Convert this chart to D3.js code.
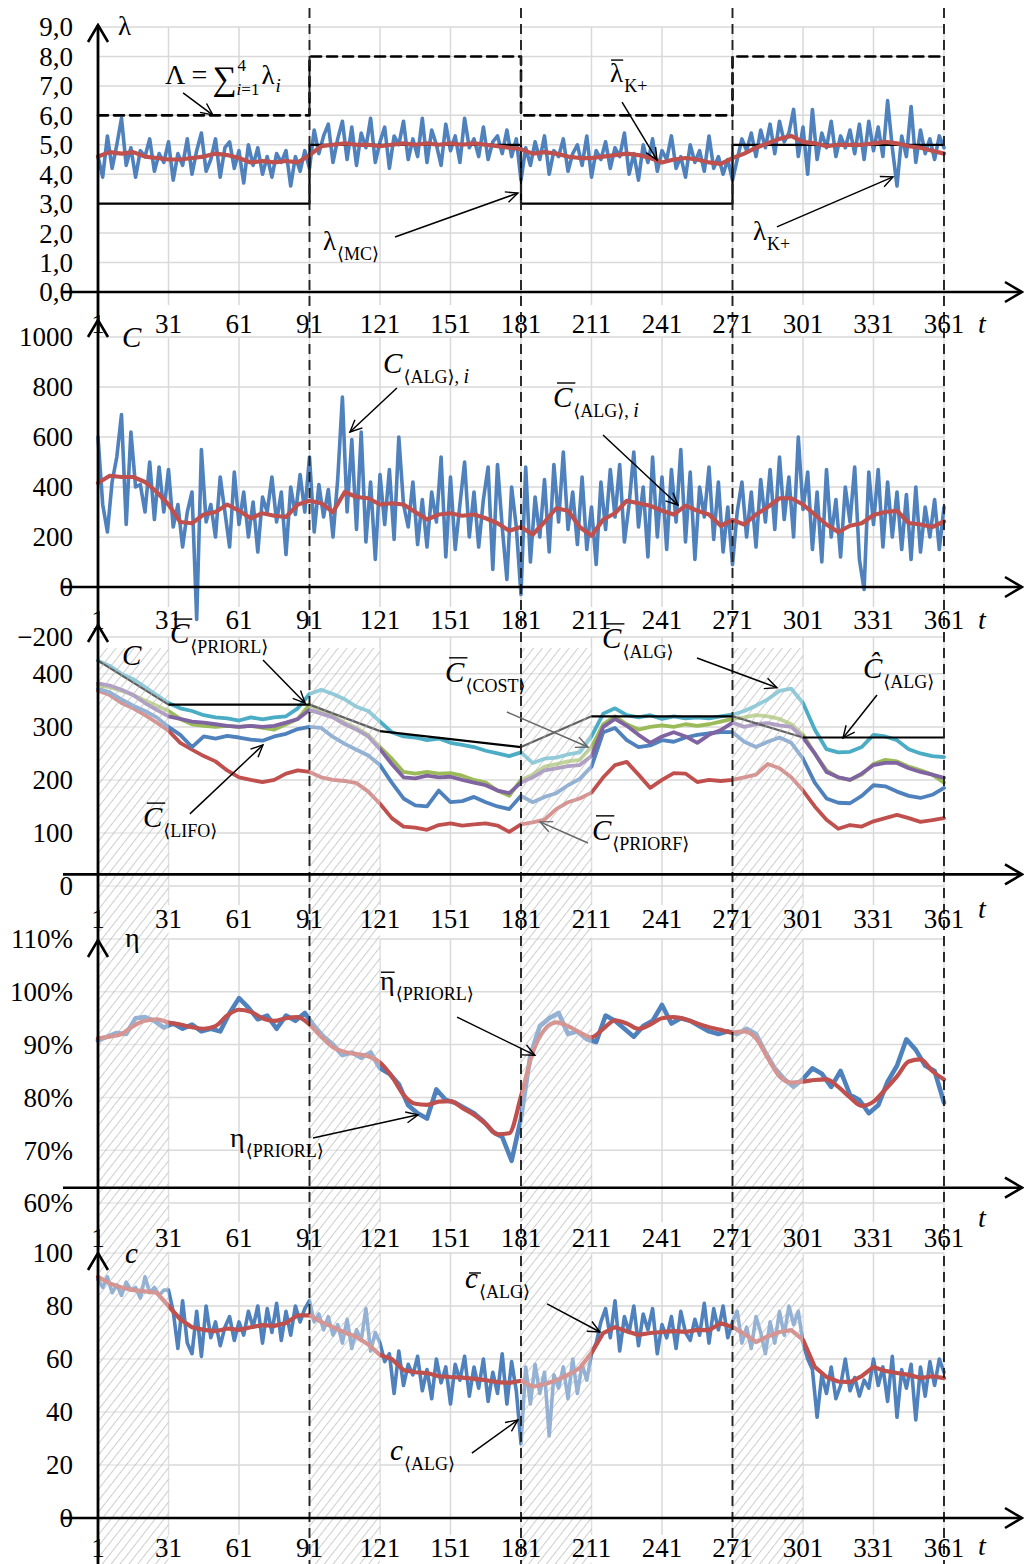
<!DOCTYPE html>
<html>
<head>
<meta charset="utf-8">
<script src="https://cdn.jsdelivr.net/npm/d3@7"></script>
<style>
body { margin: 0; background: #fff; }
text { font-family: "Liberation Serif", "DejaVu Serif", serif; fill: #000; }
</style>
</head>
<body>
<script>
// categories / shared
var tickT = [1, 31, 61, 91, 121, 151, 181, 211, 241, 271, 301, 331, 361];
var phaseT = [91, 181, 271, 361];
var hatchT = [[1, 31], [91, 121], [181, 211], [271, 301]];

// panel 1 : intensities
var stepT = [1, 91, 181, 271, 361];
var lamMcV = [3, 5, 3, 5, 5];
var lamSumV = [6, 8, 6, 8, 8];
// lambda K+ , every 2nd day
var lamKp = [
  4.6, 3.9, 5.3, 4.2, 5.0, 5.9, 4.3, 4.9, 3.9, 4.8, 4.6, 5.2, 4.1, 4.7, 4.4,
  5.1, 3.8, 4.7, 4.3, 5.2, 4.0, 4.8, 5.4, 4.1, 4.5, 5.2, 3.9, 4.9, 5.1, 4.2,
  4.8, 3.7, 5.0, 4.3, 4.9, 4.0, 4.6, 3.9, 4.7, 4.4, 4.8, 3.6, 4.6, 4.1, 4.8,
  4.2,
  5.5, 4.7, 5.3, 5.7, 4.4, 5.2, 5.8, 4.5, 5.6, 4.3, 5.4,
  4.9, 5.9, 4.4, 5.1, 5.6, 4.2, 5.3, 5.0, 5.8, 4.5, 5.2,
  4.6, 5.9, 4.4, 5.5, 5.0, 4.3, 5.7, 4.8, 5.3, 4.4, 5.9,
  4.9, 5.2, 4.6, 5.6, 4.5, 5.1, 5.3, 4.7, 5.5, 4.6, 5.2,
  3.8,
  4.9, 4.3, 5.1, 4.5, 5.3, 4.0, 4.8, 4.6, 5.2,
  4.1, 4.7, 5.0, 4.3, 5.3, 3.9, 4.8, 4.5, 5.1,
  4.2, 4.9, 4.6, 5.4, 4.0, 4.7, 3.8, 5.0, 4.4,
  5.2, 4.1, 4.8, 4.5, 5.3, 4.2, 4.6, 3.9, 5.0,
  4.4, 4.8, 4.1, 5.3, 4.2, 4.6, 4.0, 4.5, 3.8,
  4.5, 5.2, 4.8, 5.4, 4.6, 5.5, 4.9, 5.7, 4.7,
  5.8, 5.1, 5.4, 6.2, 4.6, 5.6, 4.0, 6.2, 4.5,
  5.4, 4.9, 5.8, 4.6, 5.3, 4.9, 5.5, 4.7, 5.7,
  4.5, 5.8, 4.8, 5.6, 4.6, 6.5, 4.9, 3.6, 5.3,
  4.6, 6.3, 4.4, 5.5, 4.7, 5.2, 4.5, 5.3, 4.9
];
// mean lambda K+, every 5th day
var lamKpAvg = [
  4.6, 4.75, 4.7, 4.75, 4.6, 4.55, 4.5, 4.5, 4.55, 4.6,
  4.7, 4.65, 4.55, 4.4, 4.45, 4.4, 4.45, 4.4, 4.65, 4.95,
  5.0, 5.05, 5.0, 5.0, 4.95, 5.0, 5.05, 5.0, 5.05, 5.0,
  5.05, 5.0, 5.05, 5.0, 4.95, 4.9, 4.85, 4.7, 4.75, 4.7,
  4.6, 4.55, 4.55, 4.6, 4.65, 4.7, 4.65, 4.55, 4.4, 4.5,
  4.55, 4.5, 4.4, 4.35, 4.55, 4.7, 4.9, 5.05, 5.2, 5.3,
  5.1, 5.05, 4.95, 5.0, 5.0, 5.0, 5.05, 5.1, 5.05, 4.95,
  4.9, 4.8, 4.7
];

// panel 2 : cost per day, every 2nd day
var costDay = [
  600, 330, 220, 420, 520, 690, 250, 620, 400, 410, 300, 500, 270, 480, 300,
  470, 240, 330, 160, 300, 380, -130, 550, 260, 330, 200, 440, 300, 160, 460,
  250, 380, 200, 340, 140, 360, 300, 440, 260, 380, 130, 400, 290, 450, 300,
  520, 220, 410, 280, 390, 200, 430, 760, 300, 590, 230, 620, 180, 420, 110,
  450, 250, 470, 190, 600, 330, 240, 420, 170, 350, 160, 380, 260, 520, 120,
  440, 150, 330, 500, 200, 380, 160, 350, 480, 70, 490, 240, 30, 400, 240,
  -30,
  480, 100, 360, 200, 430, 140, 490, 260, 540, 230, 380, 170, 440, 150, 320,
  90, 420, 230, 470, 280, 490, 180, 330, 540, 240, 400, 120, 520, 200, 440,
  150, 470, 260, 550, 180, 460, 110, 400, 280, 480, 190, 420, 140, 320, 90,
  300, 420, 200, 380, 160, 430, 260, 470, 230, 520, 270, 440, 200, 600, 310,
  460, 150, 380, 100, 470, 200, 350, 120, 400, 260, 480, 110, -10, 460, 250,
  470, 160, 420, 200, 380, 150, 370, 110, 400, 140, 320, 200, 350, 150, 320
];
var costDayAvg = [
  416, 445, 440, 440, 420, 380, 330, 260, 255, 290,
  300, 330, 305, 275, 295, 285, 280, 330, 345, 335,
  300, 380, 360, 355, 330, 335, 330, 300, 270, 290,
  295, 285, 290, 275, 255, 225, 240, 210, 260, 315,
  305, 240, 205, 270, 295, 345, 335, 325, 305, 290,
  325, 305, 290, 245, 268, 250, 290, 320, 355, 355,
  330, 290, 250, 220, 245, 255, 288, 300, 305, 256,
  250, 240, 262
];

// panel 3 : mean cost by discipline, every 5th day
var costAlg = [
  425, 415, 400, 390, 375, 360, 345, 335, 330, 322,
  318, 316, 312, 318, 314, 318, 320, 335, 362, 370,
  362, 352, 338, 330, 310, 290, 282, 280, 275, 278,
  270, 266, 262, 255, 250, 245, 252, 232, 240, 242,
  248, 252, 282, 325, 335, 322, 318, 322, 315, 320,
  316, 318, 316, 320, 323, 330, 340, 352, 368, 372,
  345, 295, 258, 252, 253, 262, 285, 282, 275, 258,
  250, 245, 243
];
var costGreen = [
  378, 375, 368, 360, 350, 340, 330, 315, 305, 302,
  300, 302, 300, 302, 298, 295, 305, 315, 342, 330,
  320, 308, 298, 285, 262, 240, 215, 212, 215, 212,
  213, 208, 200, 195, 180, 170, 200, 210, 225, 230,
  235, 238, 262, 305, 320, 305, 295, 300, 303, 300,
  305, 302, 305, 310, 315, 318, 322, 320, 315, 305,
  285, 250, 218, 205, 200, 210, 230, 238, 235, 225,
  218, 210, 195
];
var costPriorl = [
  382, 378, 370, 360, 345, 332, 320, 315, 310, 308,
  305, 302, 300, 302, 300, 302, 308, 315, 332, 325,
  318, 305, 295, 282, 258, 230, 205, 203, 208, 205,
  206, 200, 195, 190, 180, 175, 195, 205, 218, 222,
  226, 228, 245, 300, 315, 302, 285, 270, 282, 290,
  282, 270, 285, 294, 308, 300, 305, 307, 303, 300,
  280, 250, 215, 205, 200, 212, 228, 232, 232, 222,
  215, 210, 204
];
var costLifo = [
  372, 365, 352, 340, 330, 318, 300, 285, 262, 282,
  278, 283, 280, 276, 274, 282, 287, 296, 300, 298,
  281, 268, 257, 246, 228, 195, 165, 152, 150, 180,
  158, 160, 168, 158, 150, 145, 170, 158, 168, 175,
  190, 202, 225, 290, 298, 275, 262, 265, 275, 272,
  280, 285, 288, 290, 290, 272, 262, 272, 280, 270,
  240, 195, 165, 157, 156, 170, 190, 188, 178, 170,
  166, 172, 185
];
var costPriorf = [
  368, 360, 345, 335, 322, 308, 293, 270, 257, 245,
  235, 218, 205, 200, 196, 200, 212, 218, 215, 205,
  200, 198, 194, 178, 155, 128, 112, 110, 106, 115,
  118, 114, 116, 118, 114, 102, 116, 120, 125, 145,
  158, 165, 176, 205, 228, 234, 210, 185, 200, 213,
  212, 196, 200, 198, 200, 205, 210, 230, 222, 205,
  180, 150, 125, 108, 115, 112, 122, 128, 134, 128,
  121, 124, 128
];
var costKnotT = [1, 31, 91, 121, 181, 211, 271, 301, 361];
var costKnotV = [425, 342, 342, 292, 262, 320, 320, 280, 280];

// panel 4 : efficiency (%), every 4th day / smoothed every 5th day
var etaDay = [
  90.8, 91.5, 92.2, 92.0, 95.0, 95.2, 94.5, 93.2, 94.0, 93.0,
  93.8, 92.5, 93.0, 92.5, 96.0, 98.8, 97.0, 94.8, 95.5, 93.0,
  95.5, 94.5, 96.0, 93.5, 91.5, 90.0, 88.0, 88.5, 87.5, 88.5,
  85.5, 84.5, 82.5, 78.5, 77.0, 76.0, 81.5, 79.5, 79.0, 78.0,
  77.0, 75.5, 73.5, 72.5, 68.0, 76.0, 88.0, 93.5, 95.0, 96.0,
  92.0, 92.5, 91.0, 90.5, 95.5, 94.5, 93.0, 91.5, 93.5, 94.5,
  97.5, 94.0, 95.0, 94.5, 93.5, 92.5, 92.0, 92.5, 92.0, 93.0,
  92.0, 88.5, 85.5, 83.5, 82.0, 83.5, 85.5, 84.5, 82.0, 85.0,
  80.5, 79.5, 77.0, 78.5, 83.0, 86.0, 91.0, 89.0, 86.0, 85.0,
  79.0
];
var etaAvg = [
  91.2, 91.5, 92.0, 93.5, 94.5, 94.8, 94.2, 93.8, 93.3, 93.0,
  93.5, 95.5, 96.6, 96.2, 95.0, 94.5, 95.0, 95.2, 93.8, 91.5,
  89.5, 88.6, 88.2, 87.8, 86.6, 84.0, 80.5, 78.8, 78.6, 79.2,
  79.3, 78.0, 76.7, 75.0, 73.0, 73.2, 80.2, 88.5, 92.8, 94.2,
  93.5, 92.3, 91.4, 93.0, 94.6, 94.0, 93.0, 93.8, 95.0, 95.2,
  94.8, 94.0, 93.3, 92.8, 92.3, 92.5, 91.2, 87.5, 84.0, 82.8,
  83.0, 83.3, 83.4, 82.0, 80.0, 78.4, 79.2, 81.5, 84.0, 86.8,
  87.2, 85.0, 83.4
];

// panel 5 : unit cost, every 2nd day / smoothed every 5th day
var unitCost = [
  90, 87, 91, 85, 88, 84, 89, 86, 87, 83, 91, 85, 87, 84, 86,
  86, 78, 64, 82, 66, 62, 78, 61, 80, 68, 74, 65, 72, 76, 67,
  74, 69, 78, 72, 80, 66, 79, 70, 81, 67, 78, 69, 80, 74, 79,
  82, 74, 77, 71, 76, 69, 73, 66, 75, 64, 71, 67, 79, 63, 70,
  66, 59, 62, 47, 63, 50, 58, 54, 61, 48, 56, 45, 60, 51, 57,
  43, 58, 52, 61, 46, 57, 49, 60, 44, 55, 47, 62, 43, 59, 48,
  28,
  57, 43, 58, 47, 55, 31, 54, 49, 57, 45, 60, 47, 58, 52, 62,
  66, 74, 79, 68, 82, 63, 76, 70, 80, 65, 77, 71, 79, 62, 73,
  68, 76, 64, 78, 70, 67, 75, 69, 81, 66, 79, 71, 80, 68, 74,
  78, 66, 72, 64, 76, 70, 62, 74, 66, 78, 69, 80, 73, 78, 66,
  60, 56, 38, 54, 47, 57, 45, 50, 60, 48, 53, 46, 52, 49, 60,
  50, 57, 44, 61, 38, 56, 49, 58, 37, 57, 46, 59, 50, 60, 55
];
var unitCostAvg = [
  91, 88.5, 87, 86, 85.5, 85, 80, 75, 72, 71,
  70.5, 71.5, 71, 72, 72.8, 72.5, 73.6, 76.5, 76.5, 74,
  72, 70, 68.3, 65.5, 61.5, 60, 55.8, 55, 54.7, 53.5,
  53.2, 53, 52.5, 52, 51.3, 51, 51.8, 49.5, 50.5, 52,
  54, 56.6, 62.3, 69.8, 72, 70.5, 69.1, 69.8, 70.2, 70.5,
  70.2, 71, 70.9, 73.5, 72.1, 69.5, 66.4, 68.5, 70.2, 70.9,
  67.2, 57, 53.2, 51.5, 51.3, 53.5, 57, 55.5, 54.7, 54,
  52.8, 53.5, 52.8
];

var cBlue = "#4f81bd", cRed = "#c0504d", cCyan = "#4bacc6",
    cGreen = "#9bbb59", cPurple = "#8064a2";

var W = 1024, H = 1564;
var svg = d3.select("body").append("svg").attr("width", W).attr("height", H);
var defs = svg.append("defs");

function marker(id, w, h, color, sw) {
  defs.append("marker").attr("id", id)
    .attr("viewBox", "-2 -2 " + (w + 4) + " " + (h + 4))
    .attr("refX", w).attr("refY", h / 2)
    .attr("markerWidth", w + 4).attr("markerHeight", h + 4)
    .attr("markerUnits", "userSpaceOnUse").attr("orient", "auto")
    .append("path").attr("d", "M0,0 L" + w + "," + (h / 2) + " L0," + h)
    .attr("fill", "none").attr("stroke", color).attr("stroke-width", sw);
}
marker("axisHead", 17, 20, "#000", 2.6);
marker("head", 12, 11, "#000", 1.4);
marker("headGray", 12, 11, "#666", 1.4);

// hatch for the transition periods
var pat = defs.append("pattern").attr("id", "hatch")
  .attr("patternUnits", "userSpaceOnUse").attr("width", 7).attr("height", 7)
  .attr("patternTransform", "rotate(38)");
pat.append("rect").attr("width", 7).attr("height", 7).attr("fill", "#fff").attr("fill-opacity", 0.38);
pat.append("line").attr("x1", 0).attr("y1", 0).attr("x2", 0).attr("y2", 7)
  .attr("stroke", "#b3b3b3").attr("stroke-width", 1.3);

var x = d3.scaleLinear().domain([1, 361]).range([98, 944]);

function pts(values, step) {
  return values.map(function(v, i) { return [1 + i * step, v]; });
}
function pairs(ts, vs) {
  return ts.map(function(t, i) { return [t, vs[i]]; });
}

var commaFmt = function(v) { return d3.format(".1f")(v).replace(".", ","); };

var panels = [
  {domain: [0, 9], range: [292, 27], ticks: d3.range(0, 10, 1), fmt: commaFmt, axisAt: 0,
   tip: 25, axisBottom: 320, gridTop: 27, gridBottom: 305, labelY: 333, tY: 333,
   series: [
     {data: pts(lamKp, 2), color: cBlue, w: 3.6},
     {data: pairs(stepT, lamMcV), color: "#000", w: 2.2, step: true},
     {data: pairs(stepT, lamSumV), color: "#000", w: 2.6, step: true, dash: "10,6"},
     {data: pts(lamKpAvg, 5), color: cRed, w: 4.2}
   ]},
  {domain: [-200, 1000], range: [637, 337], ticks: d3.range(-200, 1001, 200), fmt: d3.format("d"), axisAt: 0,
   tip: 320, axisBottom: 625, gridTop: 337, gridBottom: 607, labelY: 629, tY: 629,
   series: [
     {data: pts(costDay, 2), color: cBlue, w: 3.6},
     {data: pts(costDayAvg, 5), color: cRed, w: 4.2}
   ]},
  {domain: [0, 445], range: [886, 650], ticks: [0, 100, 200, 300, 400], fmt: d3.format("d"), axisAt: 22,
   tip: 625, axisBottom: 940, gridTop: 637, gridBottom: 905, labelY: 928, tY: 918,
   series: [
     {data: pts(costPriorf, 5), color: cRed, w: 3.8},
     {data: pts(costLifo, 5), color: cBlue, w: 3.8},
     {data: pts(costGreen, 5), color: cGreen, w: 3.8},
     {data: pts(costPriorl, 5), color: cPurple, w: 3.8},
     {data: pts(costAlg, 5), color: cCyan, w: 3.8},
     {data: pairs(costKnotT, costKnotV), color: "#000", w: 2.2}
   ]},
  {domain: [60, 110], range: [1203, 939], ticks: d3.range(60, 111, 10), fmt: function(v) { return v + "%"; }, axisAt: 62.9,
   tip: 940, axisBottom: 1253, gridTop: 939, gridBottom: 1222, labelY: 1247, tY: 1227,
   series: [
     {data: pts(etaDay, 4), color: cBlue, w: 4.6},
     {data: pts(etaAvg, 5), color: cRed, w: 4.2, curve: d3.curveMonotoneX}
   ]},
  {domain: [0, 100], range: [1518, 1253], ticks: d3.range(0, 101, 20), fmt: d3.format("d"), axisAt: 0,
   tip: 1253, axisBottom: 1564, gridTop: 1253, gridBottom: 1535, labelY: 1557, tY: 1555,
   series: [
     {data: pts(unitCost, 2), color: cBlue, w: 3.6},
     {data: pts(unitCostAvg, 5), color: cRed, w: 4.2}
   ]}
];
panels.forEach(function(p) { p.y = d3.scaleLinear().domain(p.domain).range(p.range); });

var gGrid = svg.append("g"), gSeries = svg.append("g"), gHatch = svg.append("g"),
    gPhase = svg.append("g"), gAxes = svg.append("g"), gText = svg.append("g"), gNotes = svg.append("g");

panels.forEach(function(p) {
  // grid
  gGrid.selectAll(null).data(p.ticks).enter().append("line")
    .attr("x1", x(1)).attr("x2", x(361))
    .attr("y1", function(d) { return p.y(d); }).attr("y2", function(d) { return p.y(d); })
    .attr("stroke", "#d9d9d9").attr("stroke-width", 1.5);
  gGrid.selectAll(null).data(tickT.slice(1)).enter().append("line")
    .attr("x1", function(d) { return x(d); }).attr("x2", function(d) { return x(d); })
    .attr("y1", p.gridTop).attr("y2", p.gridBottom)
    .attr("stroke", "#d9d9d9").attr("stroke-width", 1.5);

  // series
  p.series.forEach(function(s) {
    var line = d3.line()
      .x(function(d) { return x(d[0]); })
      .y(function(d) { return p.y(d[1]); })
      .curve(s.step ? d3.curveStepAfter : (s.curve || d3.curveLinear));
    gSeries.append("path").datum(s.data).attr("d", line)
      .attr("fill", "none").attr("stroke", s.color).attr("stroke-width", s.w)
      .attr("stroke-linejoin", "round").attr("stroke-linecap", "round")
      .attr("stroke-dasharray", s.dash || null);
  });

  // axes
  gAxes.append("line").attr("x1", x(1)).attr("x2", x(1))
    .attr("y1", p.axisBottom).attr("y2", p.tip)
    .attr("stroke", "#000").attr("stroke-width", 2.8).attr("marker-end", "url(#axisHead)");
  gAxes.append("line").attr("x1", x(1) - 35).attr("x2", W - 2)
    .attr("y1", p.y(p.axisAt)).attr("y2", p.y(p.axisAt))
    .attr("stroke", "#000").attr("stroke-width", 2.6).attr("marker-end", "url(#axisHead)");

  // tick labels
  gText.selectAll(null).data(p.ticks).enter().append("text")
    .attr("x", 73).attr("y", function(d) { return p.y(d); }).attr("dy", "0.35em")
    .attr("text-anchor", "end").attr("font-size", 27).text(p.fmt);
  gText.selectAll(null).data(tickT).enter().append("text")
    .attr("x", function(d) { return x(d); }).attr("y", p.labelY)
    .attr("text-anchor", "middle").attr("font-size", 27).text(function(d) { return d; });
  gText.append("text").attr("x", 978).attr("y", p.tY).attr("font-size", 28)
    .attr("font-style", "italic").text("t");
});

// transition periods hatched in the lower three panels
gHatch.selectAll(null).data(hatchT).enter().append("rect")
  .attr("x", function(d) { return x(d[0]); }).attr("width", function(d) { return x(d[1]) - x(d[0]); })
  .attr("y", panels[2].range[1] - 2).attr("height", H - panels[2].range[1] + 2)
  .attr("fill", "url(#hatch)");

// phase boundaries
gPhase.selectAll(null).data(phaseT).enter().append("line")
  .attr("x1", function(d) { return x(d); }).attr("x2", function(d) { return x(d); })
  .attr("y1", 8).attr("y2", H)
  .attr("stroke", "#222").attr("stroke-width", 1.9).attr("stroke-dasharray", "10,6");

// annotation helpers (positions in data units of each panel)
function mathLabel(p, t, v, o) {
  var px = x(t), py = panels[p].y(v);
  var g = gNotes.append("g");
  var m = g.append("text").attr("x", px).attr("y", py).attr("font-size", o.size || 29)
    .attr("font-style", o.italic ? "italic" : null).text(o.main);
  var w = m.node().getComputedTextLength();
  if (o.bar) {
    g.append("line").attr("x1", px + (o.italic ? 4 : 1)).attr("x2", px + w + (o.italic ? 3 : 0))
      .attr("y1", py - o.bar).attr("y2", py - o.bar)
      .attr("stroke", "#000").attr("stroke-width", 1.4);
  }
  if (o.sub) {
    var s = g.append("text").attr("x", px + w + 1).attr("y", py + 10).attr("font-size", 18);
    s.append("tspan").text(o.sub);
    if (o.tail) {
      s.append("tspan").text(", ");
      s.append("tspan").attr("font-style", "italic").attr("font-size", 20).text("i");
    }
  }
}
function arrow(p, t1, v1, t2, v2, gray) {
  var y = panels[p].y;
  gNotes.append("line").attr("x1", x(t1)).attr("y1", y(v1)).attr("x2", x(t2)).attr("y2", y(v2))
    .attr("stroke", gray ? "#666" : "#000").attr("stroke-width", 1.5)
    .attr("marker-end", gray ? "url(#headGray)" : "url(#head)");
}

// panel 1 notes : Λ = Σ λi, pieces placed after measuring the sum sign
(function() {
  var px = x(29.5), py = panels[0].y(7.06);
  var g = gNotes.append("g");
  var lead = g.append("text").attr("x", px).attr("y", py).attr("font-size", 28).text("Λ =");
  var sx = px + lead.node().getComputedTextLength() + 5;
  var sum = g.append("text").attr("x", sx).attr("y", py + 6).attr("font-size", 34).text("∑");
  var sumEnd = sx + sum.node().getComputedTextLength();
  g.append("text").attr("x", sumEnd + 1).attr("y", py - 13).attr("font-size", 17).text("4");
  var s = g.append("text").attr("x", sumEnd).attr("y", py + 11).attr("font-size", 17);
  s.append("tspan").attr("font-style", "italic").text("i");
  s.append("tspan").text("=1");
  var lx = sumEnd + s.node().getComputedTextLength() + 2;
  var lam = g.append("text").attr("x", lx).attr("y", py).attr("font-size", 27).text("λ");
  g.append("text").attr("x", lx + lam.node().getComputedTextLength() + 1).attr("y", py + 8)
    .attr("font-size", 19).attr("font-style", "italic").text("i");
})();
arrow(0, 37.2, 6.76, 49.9, 6.01);
mathLabel(0, 9.5, 8.73, {main: "λ", size: 27});
mathLabel(0, 218.9, 7.13, {main: "λ", size: 27, bar: 22, sub: "K+"});
arrow(0, 224, 6.45, 238.9, 4.48);
mathLabel(0, 96.7, 1.43, {main: "λ", size: 27, sub: "⟨MC⟩"});
arrow(0, 127.4, 1.87, 179.7, 3.36);
mathLabel(0, 279.7, 1.77, {main: "λ", size: 27, sub: "K+"});
arrow(0, 289.9, 2.21, 339.3, 3.91);

// panel 2 notes
mathLabel(1, 11.2, 960, {main: "C", italic: true});
mathLabel(1, 122.3, 856, {main: "C", italic: true, sub: "⟨ALG⟩", tail: true});
arrow(1, 128.2, 796, 108.2, 620);
mathLabel(1, 194.6, 720, {main: "C", italic: true, bar: 24, sub: "⟨ALG⟩", tail: true});
arrow(1, 215.9, 608, 247.8, 328);

// panel 3 notes
mathLabel(2, 11.2, 417, {main: "C", italic: true});
mathLabel(2, 31.6, 458, {main: "C", italic: true, bar: 24, sub: "⟨PRIORL⟩"});
arrow(2, 71.2, 426, 89.1, 345);
mathLabel(2, 20.1, 111, {main: "C", italic: true, bar: 24, sub: "⟨LIFO⟩"});
arrow(2, 40.1, 136, 71.2, 266);
mathLabel(2, 148.7, 385, {main: "C", italic: true, bar: 24, sub: "⟨COST⟩"});
arrow(2, 175, 328, 209.5, 262, true);
mathLabel(2, 215.5, 449, {main: "C", italic: true, bar: 24, sub: "⟨ALG⟩"});
arrow(2, 255.9, 430, 289.9, 374);
mathLabel(2, 326.5, 392, {main: "Ĉ", italic: true, sub: "⟨ALG⟩"});
arrow(2, 332.5, 360, 318, 279);
mathLabel(2, 211.2, 87, {main: "C", italic: true, bar: 24, sub: "⟨PRIORF⟩"});
arrow(2, 209.5, 81, 189.1, 121, true);

// panel 4 notes
mathLabel(3, 12.5, 108.5, {main: "η", size: 28});
mathLabel(3, 121, 100.3, {main: "η", size: 28, bar: 18, sub: "⟨PRIORL⟩"});
arrow(3, 153.8, 95.2, 186.9, 88.0);
mathLabel(3, 57.2, 70.6, {main: "η", size: 28, sub: "⟨PRIORL⟩"});
arrow(3, 92.5, 72.3, 137.2, 76.7);

// panel 5 notes
mathLabel(4, 12.5, 96.2, {main: "c", italic: true});
mathLabel(4, 157.2, 86.8, {main: "c", italic: true, bar: 15, sub: "⟨ALG⟩"});
arrow(4, 192.1, 80.8, 214.6, 70.2);
mathLabel(4, 125.3, 21.9, {main: "c", italic: true, sub: "⟨ALG⟩"});
arrow(4, 160.1, 24.5, 179.7, 37);
</script>
</body>
</html>
